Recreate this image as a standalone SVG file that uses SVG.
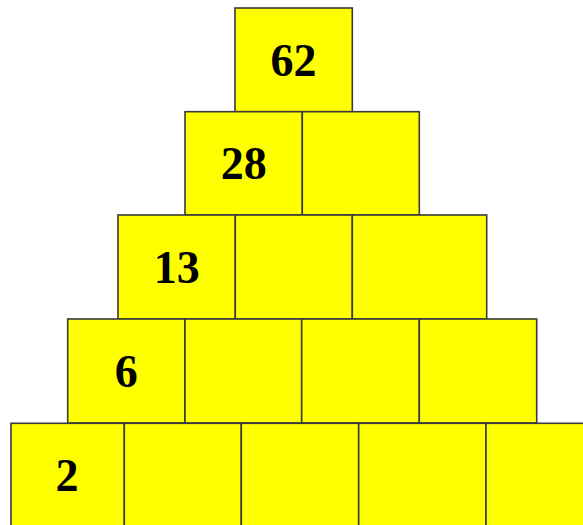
<svg xmlns="http://www.w3.org/2000/svg" width="583" height="525" viewBox="0 0 583 525">
<style>
.c{fill:#ffff00;stroke:#3a3a3a;stroke-width:1.6}
text{font-family:"Liberation Serif","DejaVu Serif",serif;font-weight:bold;font-size:46px;fill:#000;text-anchor:middle}
</style>
<rect width="583" height="525" fill="#ffffff"/>
<g id="row1">
<g id="c11"><rect class="c" x="235" y="8" width="117.3" height="103.7"/><text x="293.6" y="76">62</text></g>
</g>
<g id="row2">
<g id="c21"><rect class="c" x="185" y="111.7" width="117.3" height="103.3"/><text x="243.7" y="179">28</text></g>
<g id="c22"><rect class="c" x="302.3" y="111.7" width="117" height="103.3"/></g>
</g>
<g id="row3">
<g id="c31"><rect class="c" x="118" y="215" width="117.3" height="104"/><text x="176.7" y="283.3">13</text></g>
<g id="c32"><rect class="c" x="235.3" y="215" width="117" height="104"/></g>
<g id="c33"><rect class="c" x="352.3" y="215" width="134.4" height="104"/></g>
</g>
<g id="row4">
<g id="c41"><rect class="c" x="67.7" y="319" width="117.3" height="104"/><text x="126.3" y="386.7">6</text></g>
<g id="c42"><rect class="c" x="185" y="319" width="116.7" height="104"/></g>
<g id="c43"><rect class="c" x="301.7" y="319" width="117.6" height="104"/></g>
<g id="c44"><rect class="c" x="419.3" y="319" width="117.4" height="104"/></g>
</g>
<g id="row5">
<g id="c51"><rect class="c" x="11" y="423.3" width="113.3" height="110"/><text x="67" y="490.7">2</text></g>
<g id="c52"><rect class="c" x="124.3" y="423.3" width="117" height="110"/></g>
<g id="c53"><rect class="c" x="241.3" y="423.3" width="117.4" height="110"/></g>
<g id="c54"><rect class="c" x="358.7" y="423.3" width="127.3" height="110"/></g>
<g id="c55"><rect class="c" x="486" y="423.3" width="110" height="110"/></g>
</g>
<g id="connectors"/>
</svg>
